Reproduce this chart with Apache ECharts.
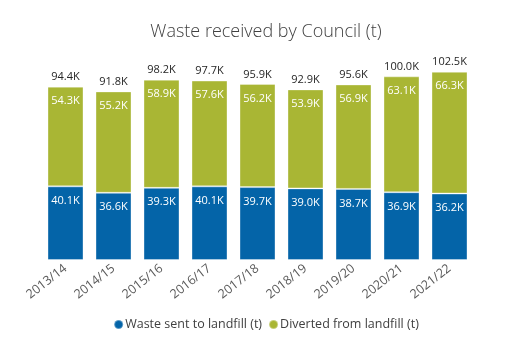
<!DOCTYPE html>
<html>
<head>
<meta charset="utf-8">
<script src="https://cdn.jsdelivr.net/npm/echarts@6/dist/echarts.min.js"></script>
<style>
  html, body { margin: 0; padding: 0; background: #fff; }
  #chart { width: 532px; height: 349px; }
</style>
</head>
<body>
<div id="chart"></div>
<script>
// Waste tonnages per financial year, in thousands of tonnes
const years = ['2013/14', '2014/15', '2015/16', '2016/17', '2017/18', '2018/19', '2019/20', '2020/21', '2021/22'];
const landfill = [40.1, 36.6, 39.3, 40.1, 39.7, 39.0, 38.7, 36.9, 36.2];
const diverted = [54.3, 55.2, 58.9, 57.6, 56.2, 53.9, 56.9, 63.1, 66.3];
const totals = [94.4, 91.8, 98.2, 97.7, 95.9, 92.9, 95.6, 100.0, 102.5];

const FONT = '"Open Sans", "Noto Sans", sans-serif';
const BLUE = '#0464a8';
const GREEN = '#a9b634';
const fmtK = v => v.toFixed(1) + 'K';

const chart = echarts.init(document.getElementById('chart'), null, { renderer: 'canvas' });
chart.setOption({
  animation: false,
  title: {
    text: 'Waste received by Council (t)',
    left: 'center',
    top: 18,
    textStyle: { fontFamily: FONT, fontSize: 18, fontWeight: 300, color: '#404040' }
  },
  grid: { left: 41.5, right: 58.5, top: 58, bottom: 89 },
  legend: {
    bottom: 13,
    left: 'center',
    icon: 'circle',
    itemWidth: 9,
    itemHeight: 9,
    itemGap: 6,
    textStyle: { fontFamily: FONT, fontSize: 12.5, color: '#404040', padding: [0, 0, 0, -3] },
    data: ['Waste sent to landfill (t)', 'Diverted from landfill (t)']
  },
  xAxis: {
    type: 'category',
    data: years,
    axisLine: { show: false },
    axisTick: { show: false },
    axisLabel: {
      rotate: 38,
      margin: 7,
      fontFamily: FONT,
      fontSize: 12.5,
      color: '#595959'
    }
  },
  yAxis: {
    type: 'value',
    min: 0,
    max: 110,
    show: false,
    splitLine: { show: false }
  },
  series: [
    {
      name: 'Waste sent to landfill (t)',
      type: 'bar',
      stack: 'waste',
      barWidth: 36,
      data: landfill,
      itemStyle: { color: BLUE, borderColor: 'rgba(255,255,255,0.35)', borderWidth: 1 },
      label: {
        show: true,
        position: 'insideTop',
        distance: 9,
        formatter: p => fmtK(p.value),
        fontFamily: FONT,
        fontSize: 11,
        color: '#ffffff'
      }
    },
    {
      name: 'Diverted from landfill (t)',
      type: 'bar',
      stack: 'waste',
      barWidth: 36,
      data: diverted,
      itemStyle: { color: GREEN, borderColor: 'rgba(255,255,255,0.35)', borderWidth: 1 },
      label: {
        show: true,
        position: 'insideTop',
        distance: 9,
        formatter: p => fmtK(p.value),
        fontFamily: FONT,
        fontSize: 11,
        color: '#ffffff'
      }
    },
    {
      // Invisible carrier for the total labels above each stack
      name: 'Total',
      type: 'bar',
      stack: 'total-label',
      barGap: '-100%',
      barWidth: 36,
      data: totals,
      itemStyle: { color: 'rgba(0,0,0,0)' },
      silent: true,
      z: 1,
      label: {
        show: true,
        position: 'top',
        distance: 4,
        formatter: p => fmtK(p.value),
        fontFamily: FONT,
        fontSize: 11,
        color: '#262626'
      }
    }
  ]
});
</script>
</body>
</html>
